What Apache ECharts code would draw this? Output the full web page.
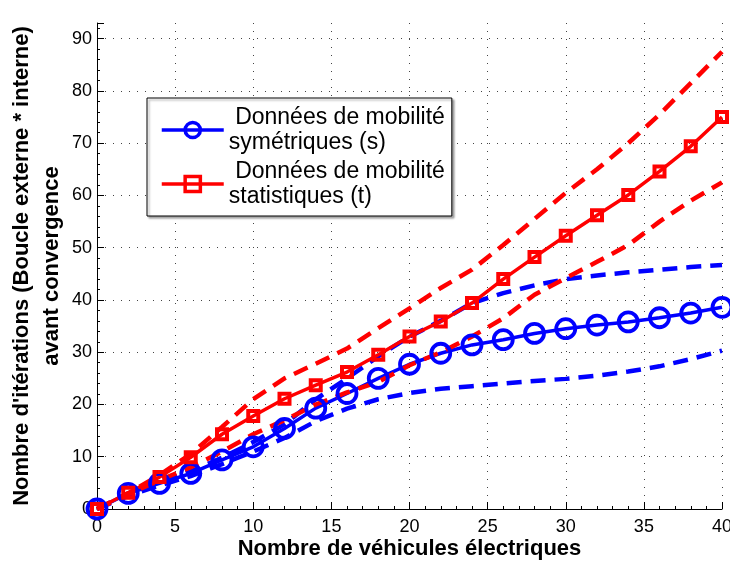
<!DOCTYPE html>
<html>
<head>
<meta charset="utf-8">
<script src="https://cdn.jsdelivr.net/npm/echarts@6/dist/echarts.min.js"></script>
<style>html,body{margin:0;padding:0;background:#fff}#c{width:730px;height:566px}</style>
</head>
<body>
<div id="c"></div>
<script>
// Data
const xValues = [0,2,4,6,8,10,12,14,16,18,20,22,24,26,28,30,32,34,36,38,40];
const symMean  = [0,3,4.9,6.8,9.4,11.9,15.4,19.3,22.1,25,27.7,29.8,31.4,32.4,33.6,34.5,35.2,35.8,36.6,37.5,38.6];
const symUpper = [0,3,5,7.2,9.8,12.8,16.2,21,25,29.2,33,36,39.4,41.3,42.8,44,44.7,45.3,45.8,46.3,46.7];
const symLower = [0,2.5,4.5,6.3,8.6,11,13.6,16.8,19.2,21,22.2,23,23.5,24,24.5,24.9,25.5,26.3,27.3,28.7,30.3];
const statMean  = [0,3.1,6.1,9.9,14.3,17.8,21.1,23.7,26.2,29.5,33,35.9,39.4,44,48.2,52.3,56.2,60.1,64.6,69.4,75];
const statUpper = [0,3,6.5,10.5,15.7,21,25,27.8,30.7,34.6,38.4,42.3,45.8,50.5,55.5,60.5,65,70,75.5,81.5,87.5];
const statLower = [0,2.8,5.5,8,11,14.3,17,20,22.3,24.3,27.5,30,33,36.5,41,44.2,47.3,50.5,55,59,62.5];
const xTickStep = 5, yTickStep = 10;
const nameSym = ' Données de mobilité\nsymétriques (s)';
const nameStat = ' Données de mobilité\nstatistiques (t)';
const xTitle = 'Nombre de véhicules électriques';
const yTitle = "Nombre d'itérations (Boucle externe * interne)\navant convergence";

const pairs = ys => xValues.map((x, i) => [x, ys[i]]);
const FONT = "'Liberation Sans', Arial, Helvetica, sans-serif";
const BLUE = '#0000ff', RED = '#ff0000';
const gridLine = {show: true, lineStyle: {color: '#444', width: 1, type: [1, 7]}};
const dash = [15, 9];

const chart = echarts.init(document.getElementById('c'), null, {renderer: 'canvas'});
chart.setOption({
  animation: false,
  backgroundColor: '#fff',
  textStyle: {fontFamily: FONT},
  grid: {left: 97, right: 8, top: 23, bottom: 57, containLabel: false, outerBoundsMode: 'none'},
  legend: {
    data: [nameSym, nameStat],
    orient: 'vertical',
    left: 147, top: 98,
    padding: [7, 7, 7, 13],
    itemGap: 4,
    itemWidth: 62, itemHeight: 19,
    backgroundColor: '#fff',
    borderColor: '#000', borderWidth: 1, borderRadius: 0,
    shadowColor: 'rgba(0,0,0,0.35)', shadowBlur: 2, shadowOffsetX: 2, shadowOffsetY: 2,
    lineStyle: {width: 3.5},
    itemStyle: {borderWidth: 3.5},
    textStyle: {fontSize: 23, lineHeight: 25, color: '#000', fontFamily: FONT},
    inactiveColor: '#ccc'
  },
  xAxis: {
    type: 'value', min: 0, max: 40, interval: xTickStep,
    name: xTitle, nameLocation: 'middle', nameGap: 29, nameMoveOverlap: false,
    nameTextStyle: {fontSize: 22, fontWeight: 'bold', color: '#000', fontFamily: FONT},
    axisLine: {show: true, onZero: false, lineStyle: {color: '#000', width: 1}},
    axisTick: {show: true, inside: true, length: 7, lineStyle: {color: '#000'}},
    minorTick: {show: true, splitNumber: 5, length: 3, lineStyle: {color: '#000'}},
    axisLabel: {fontSize: 18, color: '#000', margin: 9, fontFamily: FONT},
    splitLine: gridLine
  },
  yAxis: {
    type: 'value', min: 0, max: 93, interval: yTickStep,
    name: yTitle, nameLocation: 'middle', nameGap: 30, nameRotate: 90, nameMoveOverlap: false,
    nameTextStyle: {fontSize: 22, fontWeight: 'bold', color: '#000', lineHeight: 30, align: 'center', fontFamily: FONT},
    axisLine: {show: true, onZero: false, lineStyle: {color: '#000', width: 1}},
    axisTick: {show: true, inside: true, length: 7, lineStyle: {color: '#000'}},
    minorTick: {show: true, splitNumber: 5, length: 3, lineStyle: {color: '#000'}},
    axisLabel: {fontSize: 18, color: '#000', margin: 5, showMaxLabel: false, fontFamily: FONT},
    splitLine: Object.assign({showMaxLine: false}, gridLine)
  },
  series: [
    {
      name: nameSym, type: 'line', data: pairs(symMean), z: 3,
      symbol: 'circle', symbolSize: 19, showAllSymbol: true,
      itemStyle: {color: 'rgba(0,0,0,0)', borderColor: BLUE, borderWidth: 3.8},
      lineStyle: {color: BLUE, width: 3.5}
    },
    {
      name: 'symUpper', type: 'line', data: pairs(symUpper), z: 3,
      symbol: 'none', lineStyle: {color: BLUE, width: 4.5, type: dash}
    },
    {
      name: 'symLower', type: 'line', data: pairs(symLower), z: 3,
      symbol: 'none', lineStyle: {color: BLUE, width: 4.5, type: dash}
    },
    {
      name: nameStat, type: 'line', data: pairs(statMean), z: 3,
      symbol: 'rect', symbolSize: 10, showAllSymbol: true,
      itemStyle: {color: 'rgba(0,0,0,0)', borderColor: RED, borderWidth: 4},
      lineStyle: {color: RED, width: 3.5}
    },
    {
      name: 'statUpper', type: 'line', data: pairs(statUpper), z: 3,
      symbol: 'none', lineStyle: {color: RED, width: 4.5, type: dash}
    },
    {
      name: 'statLower', type: 'line', data: pairs(statLower), z: 3,
      symbol: 'none', lineStyle: {color: RED, width: 4.5, type: dash}
    }
  ]
});
</script>
</body>
</html>
